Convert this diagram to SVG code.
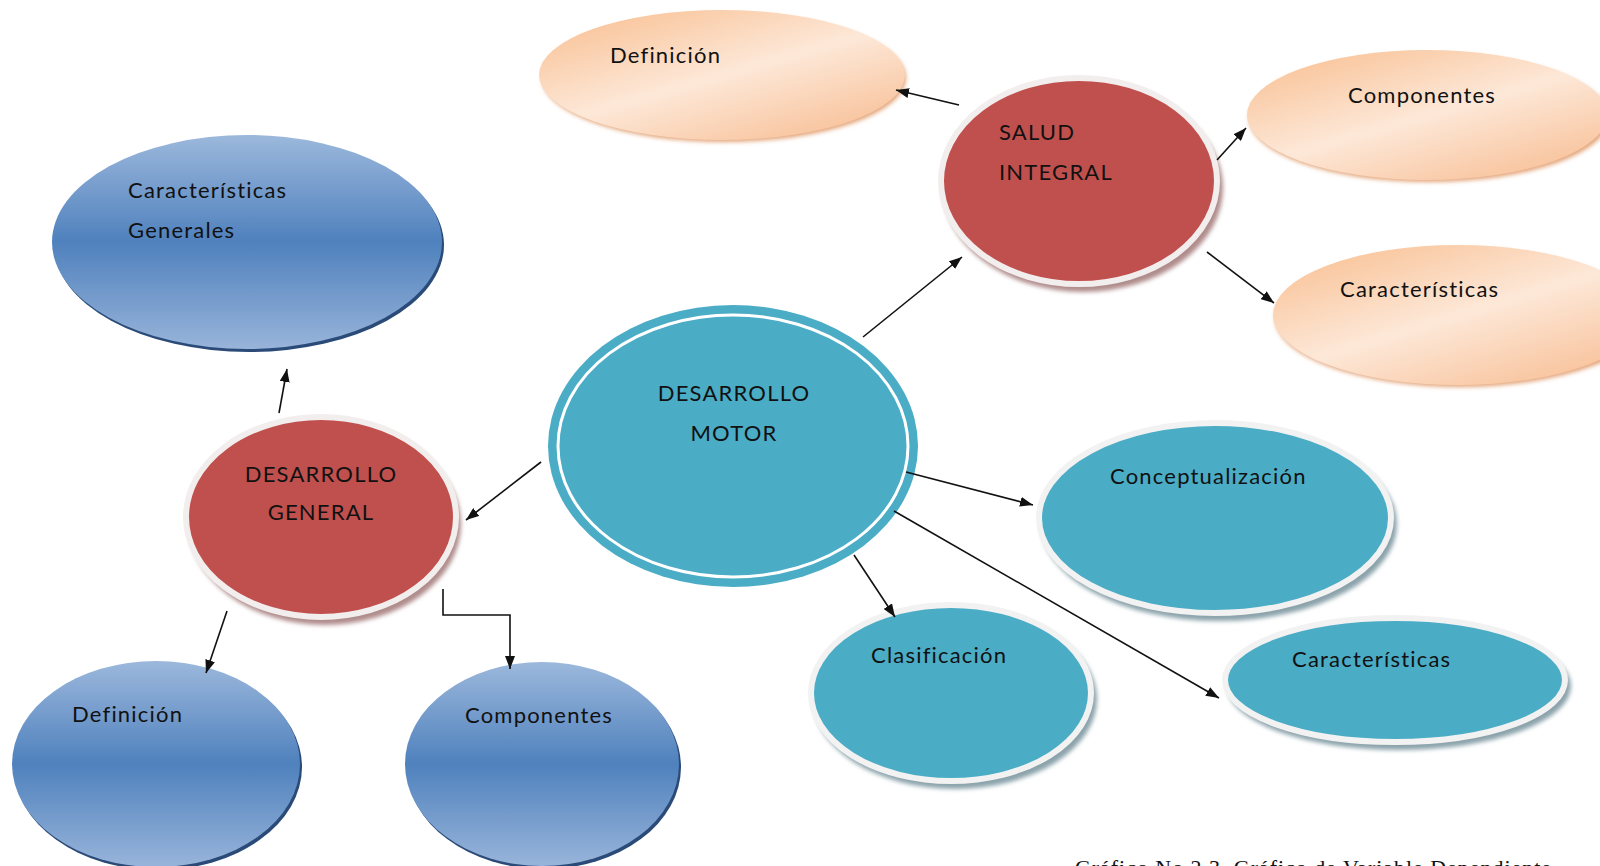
<svg xmlns="http://www.w3.org/2000/svg" width="1600" height="866" viewBox="0 0 1600 866">
<style>
.t{font-family:Lato,"Open Sans","Liberation Sans",sans-serif;font-size:22px;letter-spacing:1.2px;fill:#111}
.c{text-anchor:middle}
.cap{font-family:"Liberation Serif","Times New Roman",serif;font-size:22px;fill:#111}
.peach{fill:url(#gPeach)}
.pshadow{fill:#E3A57A;filter:url(#blur)}
.blue{fill:url(#gBlue)}
.bshadow{fill:#2A4A78}
.red{fill:#C0504D;stroke:#F3EEEE;stroke-width:6}
.rshadow{fill:#B08C8C;filter:url(#blur)}
.teal{fill:#4BACC6;stroke:#F2F2F2;stroke-width:6}
.tshadow{fill:#8BA3AB;filter:url(#blur)}
.conn{fill:none;stroke:#111;stroke-width:1.6;marker-end:url(#arr)}
</style>
<defs>
<linearGradient id="gPeach" x1="0" y1="0" x2="0.8" y2="1">
<stop offset="0" stop-color="#F8BC8C"/>
<stop offset="0.55" stop-color="#FDE8D8"/>
<stop offset="1" stop-color="#F8C199"/>
</linearGradient>
<linearGradient id="gBlue" x1="0" y1="0" x2="0" y2="1">
<stop offset="0" stop-color="#9CB8DC"/>
<stop offset="0.5" stop-color="#4F81BD"/>
<stop offset="1" stop-color="#98B4DA"/>
</linearGradient>
<filter id="blur" x="-10%" y="-10%" width="120%" height="120%">
<feGaussianBlur stdDeviation="2"/>
</filter>
<marker id="arr" markerUnits="userSpaceOnUse" markerWidth="14" markerHeight="10" refX="13" refY="5" orient="auto">
<path d="M0,0 L13,5 L0,10 z" fill="#111"/>
</marker>
</defs>
<rect width="1600" height="866" fill="#fff"/>

<g id="salud-definicion">
<ellipse class="pshadow" cx="724" cy="78" rx="182" ry="64"/>
<ellipse class="peach" cx="722" cy="75" rx="183" ry="65"/>
<text class="t" x="610" y="63">Definición</text>
</g>

<g id="salud-componentes">
<ellipse class="pshadow" cx="1429" cy="118" rx="180" ry="64"/>
<ellipse class="peach" cx="1427" cy="115" rx="180" ry="65"/>
<text class="t" x="1348" y="103">Componentes</text>
</g>

<g id="salud-caracteristicas">
<ellipse class="pshadow" cx="1460" cy="318" rx="185" ry="69"/>
<ellipse class="peach" cx="1458" cy="315" rx="185" ry="70"/>
<text class="t" x="1340" y="297">Características</text>
</g>

<g id="salud-integral">
<ellipse class="rshadow" cx="1083" cy="188" rx="140" ry="104"/>
<ellipse class="red" cx="1079" cy="181" rx="138" ry="103"/>
<text class="t" x="999" y="140">SALUD</text>
<text class="t" x="999" y="180">INTEGRAL</text>
</g>

<g id="caracteristicas-generales">
<ellipse class="bshadow" cx="249" cy="245" rx="195" ry="107"/>
<ellipse class="blue" cx="247" cy="242" rx="195" ry="107"/>
<text class="t" x="128" y="198">Características</text>
<text class="t" x="128" y="238">Generales</text>
</g>

<g id="desarrollo-general">
<ellipse class="rshadow" cx="325" cy="524" rx="136" ry="101"/>
<ellipse class="red" cx="321" cy="517" rx="135" ry="100"/>
<text class="t c" x="321" y="482">DESARROLLO</text>
<text class="t c" x="321" y="520">GENERAL</text>
</g>

<g id="general-definicion">
<ellipse class="bshadow" cx="158" cy="767" rx="144" ry="103"/>
<ellipse class="blue" cx="156" cy="764" rx="144" ry="103"/>
<text class="t" x="72" y="722">Definición</text>
</g>

<g id="general-componentes">
<ellipse class="bshadow" cx="544" cy="767" rx="137" ry="102"/>
<ellipse class="blue" cx="542" cy="764" rx="137" ry="102"/>
<text class="t" x="465" y="723">Componentes</text>
</g>

<g id="desarrollo-motor">
<ellipse cx="733" cy="446" rx="185" ry="141" fill="#4BACC6"/>
<ellipse cx="733" cy="446" rx="175" ry="131" fill="none" stroke="#FFFFFF" stroke-width="3"/>
<text class="t c" x="734" y="401">DESARROLLO</text>
<text class="t c" x="734" y="441">MOTOR</text>
</g>

<g id="conceptualizacion">
<ellipse class="tshadow" cx="1219" cy="524" rx="178" ry="97"/>
<ellipse class="teal" cx="1215" cy="518" rx="176" ry="95"/>
<text class="t" x="1110" y="484">Conceptualización</text>
</g>

<g id="clasificacion">
<ellipse class="tshadow" cx="955" cy="699" rx="142" ry="90"/>
<ellipse class="teal" cx="951" cy="693" rx="140" ry="88"/>
<text class="t" x="871" y="663">Clasificación</text>
</g>

<g id="motor-caracteristicas">
<ellipse class="tshadow" cx="1399" cy="686" rx="172" ry="64"/>
<ellipse class="teal" cx="1395" cy="680" rx="170" ry="62"/>
<text class="t" x="1292" y="667">Características</text>
</g>

<g id="connectors">
<line class="conn" x1="959" y1="105" x2="896" y2="90"/>
<line class="conn" x1="1217" y1="160" x2="1246" y2="128"/>
<line class="conn" x1="1207" y1="252" x2="1274" y2="303"/>
<line class="conn" x1="863" y1="337" x2="962" y2="257"/>
<line class="conn" x1="541" y1="462" x2="466" y2="520"/>
<line class="conn" x1="279" y1="413" x2="287" y2="369"/>
<line class="conn" x1="227" y1="611" x2="206" y2="673"/>
<polyline class="conn" points="443,589 443,615 510,615 510,669"/>
<line class="conn" x1="906" y1="472" x2="1033" y2="505"/>
<line class="conn" x1="854" y1="555" x2="895" y2="617"/>
<line class="conn" x1="894" y1="511" x2="1219" y2="698"/>
</g>

<text class="cap" x="1075" y="875" textLength="476">Gráfico No 2.3.  Gráfico de Variable Dependiente</text>
</svg>
